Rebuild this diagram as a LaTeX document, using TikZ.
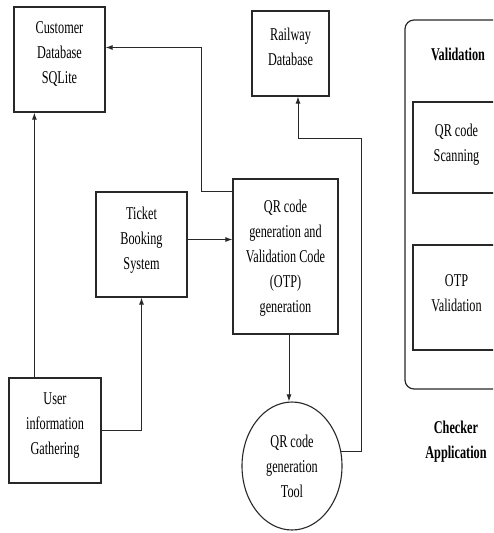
\documentclass[tikz,border=0pt]{standalone}
\usepackage{fontspec}
\setmainfont[FakeStretch=0.68]{Liberation Serif}
\usetikzlibrary{shapes.geometric, arrows.meta, positioning, calc}
\definecolor{linegray}{RGB}{40, 40, 40}

\begin{document}
\begin{tikzpicture}[
    x=1pt, y=-1pt,
    box/.style={rectangle, draw=linegray, line width=1.2pt, inner sep=0pt,
                align=center, font=\fontsize{18}{25}\selectfont},
    toolshape/.style={ellipse, draw=linegray, line width=1.1pt, inner sep=0pt,
                align=center, font=\fontsize{18}{25}\selectfont},
    label/.style={align=center, font=\fontsize{18}{25}\selectfont\bfseries},
    arrow/.style={-{Latex[length=7pt,width=5pt]}, line width=1pt, draw=linegray}
]
    \clip (0,0) rectangle (493,533);

    % Boxes
    \node[box, minimum width=91, minimum height=105, text depth=13pt] (cust) at (59.5,59.5) {Customer\\Database\\SQLite};
    \node[box, minimum width=77, minimum height=85, text depth=13pt] (rail) at (290.5,53.5) {Railway\\Database};
    \node[box, minimum width=91, minimum height=105, text depth=13pt] (ticket) at (141.5,244.5) {Ticket\\Booking\\System};
    \node[box, minimum width=105, minimum height=155, text depth=-6pt] (qrgen) at (285.5,256.5) {QR code\\generation and\\Validation Code\\(OTP)\\generation};
    \node[box, minimum width=92, minimum height=105, text depth=13pt] (user) at (55,430.5) {User\\information\\Gathering};
    \node[toolshape, minimum width=100, minimum height=128] (tool) at (292,466) {QR code\\generation\\Tool};

    % Checker application
    \node[box, rounded corners=9pt, minimum width=110, minimum height=369] (checker) at (460,204.5) {};
    \node[label] (valid) at (458,54) {Validation};
    \node[box, minimum width=87, minimum height=91, text depth=10pt] (scan) at (456.5,147.5) {QR code\\Scanning};
    \node[box, minimum width=87, minimum height=105, text depth=8pt] (otp) at (456.5,297.5) {OTP\\Validation};
    \node[label] (checkapp) at (456,441.5) {Checker\\Application};

    % Arrows
    \draw[arrow] ([xshift=26pt]user.north west) -- ([xshift=26pt]user.north west |- cust.south);
    \draw[arrow] (user.east) -| (ticket.south);
    \draw[arrow] ([yshift=5pt]ticket.east) -- ([yshift=5pt]ticket.east -| qrgen.west);
    \draw[arrow] ([yshift=-13pt]qrgen.north west) -- ++(-31,0) |- ([yshift=12pt]cust.east);
    \draw[arrow] ([xshift=3.5pt]qrgen.south) -- ([xshift=3.5pt]qrgen.south |- tool.north);
    \draw[arrow] (tool.16) -- ++(20,0) -- ++(0,-313) -| ([xshift=7.5pt]rail.south);
\end{tikzpicture}
\end{document}
